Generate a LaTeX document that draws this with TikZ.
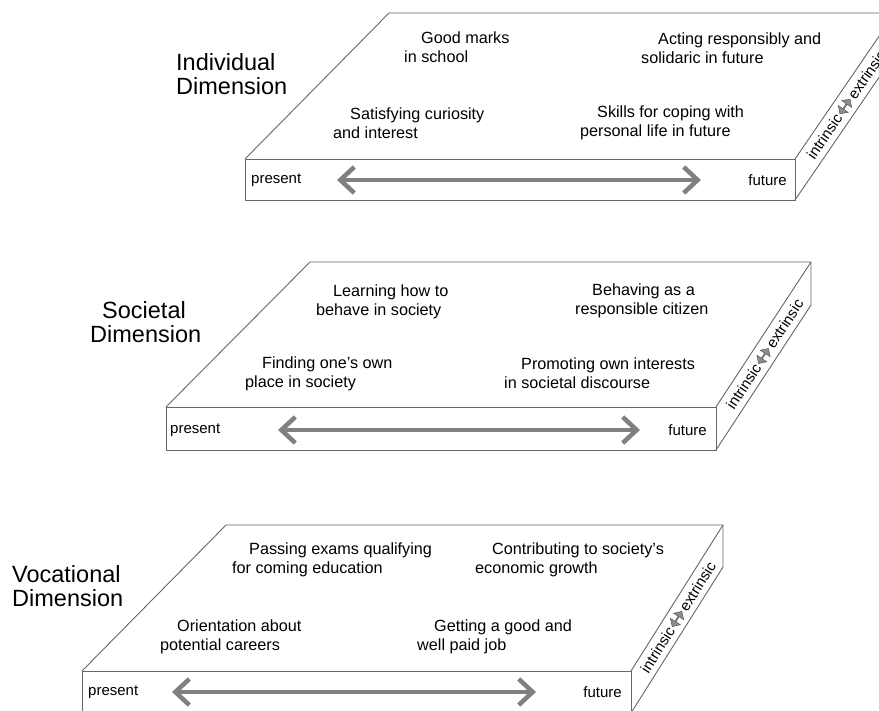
\documentclass[tikz,border=0pt]{standalone}
\usepackage{fontspec}
\setmainfont{Liberation Sans}
\usetikzlibrary{arrows.meta,shapes.arrows,calc}

\tikzset{
  slabline/.style={draw=black!60, line width=0.9pt, line join=round},
  timearrow/.style={draw=black!50, line width=4.5pt,
    {Straight Barb[length=14pt,width=26pt]}-{Straight Barb[length=14pt,width=26pt]}},
  item/.style={align=left, inner sep=0pt, anchor=west, font=\fontsize{16.2}{19}\selectfont},
  tlabel/.style={inner sep=0pt, font=\fontsize{15}{18}\selectfont},
  dimtitle/.style={align=left, inner sep=0pt, anchor=west, font=\fontsize{23.5}{24}\selectfont},
  sidetext/.style={inner sep=1.5pt, font=\fontsize{15}{17}\selectfont},
  sidearrow/.style={double arrow, draw=black!70, fill=black!45, minimum height=18pt,
    minimum width=12pt, inner sep=0pt, double arrow head extend=2pt},
}
\newcommand{\ind}{\hspace*{17pt}}

\begin{document}
\begin{tikzpicture}[x=1pt,y=-1pt]
\useasboundingbox (0,0) rectangle (879,711);
\fill[white] (0,0) rectangle (879,711);
\clip (0,0) rectangle (879,711);

% individual slab
\coordinate (iFL) at (245,159);
\coordinate (iFR) at (795,159);
\coordinate (iFRb) at (795,200);
\coordinate (iBL) at (389,13);
\coordinate (iBR) at (895,13);
\coordinate (iBRb) at (895,54);
\draw[slabline] (iFL) rectangle (iFRb);
\draw[slabline] (iFL) -- (iBL) -- (iBR) -- (iBRb) -- (iFRb);
\draw[slabline] (iFR) -- (iBR);
\node[dimtitle] (iTitle) at (176,74) {Individual\\Dimension};
\node[item] (iMarks) at (404,47) {\ind Good marks\\in school};
\node[item] (iActing) at (641,48) {\ind Acting responsibly and\\solidaric in future};
\node[item] (iCurious) at (333,123) {\ind Satisfying curiosity\\and interest};
\node[item] (iSkills) at (580,123) {\ind Skills for coping with\\personal life in future};
\node[tlabel,anchor=west] (iPresent) at (251,180) {present};
\node[tlabel,anchor=east] (iFuture) at (787,180) {future};
\coordinate (iA1) at (337,180);
\coordinate (iA2) at (701,180);
\draw[timearrow] (iA1) -- (iA2);
\coordinate (iSC) at ($(iFR)!0.5!(iBRb)$);
\node[sidearrow,rotate=55.6] (iSym) at (iSC) {};
\node[sidetext,rotate=55.6,anchor=east] (iIn) at (iSym.west) {intrinsic};
\node[sidetext,rotate=55.6,anchor=west] (iEx) at (iSym.east) {extrinsic};

% societal slab
\coordinate (sFL) at (166,407);
\coordinate (sFR) at (716,407);
\coordinate (sFRb) at (716,450);
\coordinate (sBL) at (310,262);
\coordinate (sBR) at (811,262);
\coordinate (sBRb) at (811,305);
\draw[slabline] (sFL) rectangle (sFRb);
\draw[slabline] (sFL) -- (sBL) -- (sBR) -- (sBRb) -- (sFRb);
\draw[slabline] (sFR) -- (sBR);
\node[dimtitle] (sTitle) at (90,322) {\hspace*{12pt}Societal\\Dimension};
\node[item] (sLearn) at (316,302) {\ind Learning how to\\behave in society};
\node[item] (sBehave) at (575,301) {\ind Behaving as a\\responsible citizen};
\node[item] (sPlace) at (245,374) {\ind Finding one's own\\place in society};
\node[item] (sPromote) at (504,373) {\ind Promoting own interests\\in societal discourse};
\node[tlabel,anchor=west] (sPresent) at (170,430) {present};
\node[tlabel,anchor=east] (sFuture) at (707,430) {future};
\coordinate (sA1) at (278,430);
\coordinate (sA2) at (640,430);
\draw[timearrow] (sA1) -- (sA2);
\coordinate (sSC) at ($(sFR)!0.5!(sBRb)$);
\node[sidearrow,rotate=56.8] (sSym) at (sSC) {};
\node[sidetext,rotate=56.8,anchor=east] (sIn) at (sSym.west) {intrinsic};
\node[sidetext,rotate=56.8,anchor=west] (sEx) at (sSym.east) {extrinsic};

% vocational slab
\coordinate (vFL) at (82,671);
\coordinate (vFR) at (631,671);
\coordinate (vFRb) at (631,713);
\coordinate (vBL) at (226,525);
\coordinate (vBR) at (723,525);
\coordinate (vBRb) at (723,567);
\draw[slabline] (vFL) rectangle (vFRb);
\draw[slabline] (vFL) -- (vBL) -- (vBR) -- (vBRb) -- (vFRb);
\draw[slabline] (vFR) -- (vBR);
\node[dimtitle] (vTitle) at (12,586) {Vocational\\Dimension};
\node[item] (vExams) at (232,560) {\ind Passing exams qualifying\\for coming education};
\node[item] (vGrowth) at (475,560) {\ind Contributing to society's\\economic growth};
\node[item] (vCareer) at (160,637) {\ind Orientation about\\potential careers};
\node[item] (vJob) at (417,637) {\ind Getting a good and\\well paid job};
\node[tlabel,anchor=west] (vPresent) at (88,692) {present};
\node[tlabel,anchor=east] (vFuture) at (622,692) {future};
\coordinate (vA1) at (172,692);
\coordinate (vA2) at (536,692);
\draw[timearrow] (vA1) -- (vA2);
\coordinate (vSC) at ($(vFR)!0.5!(vBRb)$);
\node[sidearrow,rotate=57.8] (vSym) at (vSC) {};
\node[sidetext,rotate=57.8,anchor=east] (vIn) at (vSym.west) {intrinsic};
\node[sidetext,rotate=57.8,anchor=west] (vEx) at (vSym.east) {extrinsic};
\end{tikzpicture}
\end{document}
